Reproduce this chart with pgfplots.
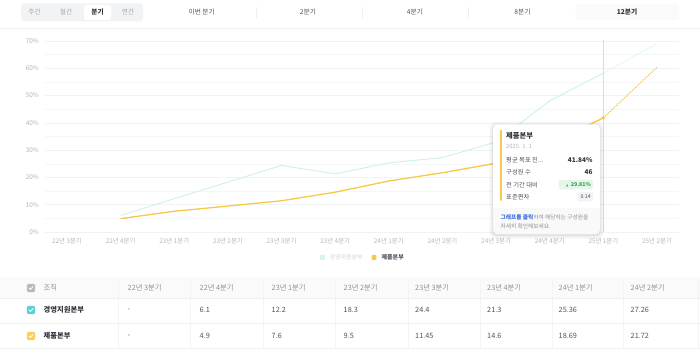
\documentclass[border=0pt]{standalone}
\usepackage{fontspec}
\setmainfont{Noto Sans CJK KR}
\newfontfamily\dejavu{DejaVu Sans}
\usepackage{pgfplots}
\pgfplotsset{compat=1.18}
\definecolor{gridc}{HTML}{F1F2F4}
\definecolor{tickc}{HTML}{B2B6BC}
\definecolor{cyanf}{HTML}{CCF0F0}
\definecolor{yel}{HTML}{F7C948}
\definecolor{cyanbox}{HTML}{5ACFD4}
\definecolor{yelbox}{HTML}{F9D05C}
\definecolor{darkt}{HTML}{30343B}
\definecolor{grayt}{HTML}{8B9099}
\definecolor{midt}{HTML}{4E535B}
\definecolor{segbg}{HTML}{F2F3F5}
\definecolor{lnc}{HTML}{EEEFF1}
\definecolor{linkc}{HTML}{3D6FE0}
\definecolor{greent}{HTML}{2FA24E}
\definecolor{greenbg}{HTML}{E7F6EB}
\newcommand{\fs}[1]{\fontsize{#1}{#1}\selectfont}
\newcommand{\chk}[3]{%
  \fill[#3,rounded corners=1.5pt] (#1-4.2,#2-4.2) rectangle (#1+4.2,#2+4.2);
  \draw[white,line width=0.8pt,line cap=round,line join=round] (#1-2,#2) -- (#1-0.6,#2-1.5) -- (#1+2.1,#2+1.6);}
\begin{document}
\begin{tikzpicture}[x=1pt,y=1pt]
\useasboundingbox (0,0) rectangle (700,361);
\fill[white] (0,0) rectangle (700,361);
% ---------- top tabs ----------
\fill[segbg,rounded corners=3pt] (21,339.7) rectangle (143,357.7);
\fill[white,rounded corners=2.5pt] (84,341) rectangle (111,356);
\draw[lnc!80!gray!40,line width=0.4pt] (50,345) -- (50,352.5);
\begin{scope}[every node/.style={inner sep=0pt,font=\fs{6.7}}]
\node[text=grayt!80] at (34.5,348.7) {주간};
\node[text=grayt!80] at (66,348.7) {월간};
\node[text=darkt,font=\fs{6.7}\bfseries] at (97.5,348.7) {분기};
\node[text=grayt!80] at (128,348.7) {연간};
\fill[segbg!90!gray!20,rounded corners=3pt] (575.7,341) rectangle (679.3,357);
\node[text=midt] at (201.7,348.7) {이번 분기};
\node[text=midt] at (308,348.7) {2분기};
\node[text=midt] at (415,348.7) {4분기};
\node[text=midt] at (522.5,348.7) {8분기};
\node[text=darkt,font=\fs{6.7}\bfseries] at (627,348.7) {12분기};
\end{scope}
\foreach \sx in {256,362,468} \draw[lnc,line width=0.5pt] (\sx,343) -- (\sx,354);
\draw[lnc,line width=0.6pt] (0,332.7) -- (700,332.7);
% ---------- chart ----------
\begin{axis}[at={(45pt,129pt)}, anchor=south west, scale only axis,
  width=634pt, height=191pt,
  xmin=-0.41, xmax=11.41, ymin=0, ymax=70,
  axis line style={draw=none}, major tick length=0pt, minor tick length=0pt,
  ytick={0,10,...,70}, minor ytick={5,15,...,65},
  /pgf/number format/assume math mode=true,
  yticklabel={\pgfmathprintnumber{\tick}\%},
  ymajorgrids, yminorgrids,
  major grid style={draw=gridc,line width=0.5pt},
  minor grid style={draw=gridc!70,line width=0.5pt},
  xtick={0,...,11},
  xticklabels={22년 3분기,22년 4분기,23년 1분기,23년 2분기,23년 3분기,23년 4분기,24년 1분기,24년 2분기,24년 3분기,24년 4분기,25년 1분기,25년 2분기},
  tick label style={font=\fs{6.4}, text=tickc},
  yticklabel style={xshift=-2.6pt},
  xticklabel style={yshift=-3pt},
  clip=false]
\draw[gridc!60!gray!60,line width=0.6pt] (axis cs:10,0) -- (axis cs:10,70.3);
\addplot[cyanf, line width=0.9pt] coordinates {(1,6.1)(2,12.2)(3,18.3)(4,24.4)(5,21.3)(6,25.36)(7,27.26)(8,33.0)(9,48.1)(10,58.2)};
\addplot[cyanf, line width=0.9pt, dash pattern=on 1.1pt off 1.1pt] coordinates {(10,58.2)(11,69.1)};
\addplot[yel, line width=1.3pt] coordinates {(1,4.9)(2,7.6)(3,9.5)(4,11.45)(5,14.6)(6,18.69)(7,21.72)(8,25.2)(9,32.23)(10,41.84)};
\addplot[yel, line width=1.2pt, dash pattern=on 1.1pt off 1.1pt] coordinates {(10,41.84)(11,60.4)};
\addplot[only marks, mark=*, mark size=1.6pt, color=yel] coordinates {(10,41.84)};
\end{axis}
% legend
\fill[cyanf!80,rounded corners=0.8pt] (320,101.2) rectangle (324.8,106);
\node[anchor=west,inner sep=0pt,font=\fs{6},text=gray!35] at (329.5,103.5) {경영지원본부};
\fill[yel,rounded corners=0.8pt] (371.5,101.2) rectangle (376.3,106);
\node[anchor=west,inner sep=0pt,font=\fs{6}\bfseries,text=midt] at (381.5,103.5) {제품본부};
% ---------- tooltip ----------
\foreach \e/\o in {4/0.015,3/0.02,2/0.03,1/0.04}
  \fill[black,opacity=\o,rounded corners=6pt] (493-\e,127-\e-1.2) rectangle (600+\e,236.7+\e-1.2);
\fill[white,rounded corners=5pt] (493,127) rectangle (600,236.7);
\begin{scope}
\clip[rounded corners=5pt] (493,127) rectangle (600,236.7);
\fill[gray!5] (493,127) rectangle (600,153);
\end{scope}
\fill[yel,rounded corners=0.8pt] (499.8,160.2) rectangle (501.8,231);
\begin{scope}[every node/.style={inner sep=0pt,anchor=west}]
\node[font=\fs{7.3}\bfseries,text=darkt] at (506,225) {제품본부};
\node[font=\fs{5.8},text=tickc] at (506,214.3) {2025. 1. 1};
\node[font=\fs{6.3},text=midt] at (506,201) {평균 목표 진...};
\node[font=\fs{6.3},text=midt] at (506,188.4) {구성원 수};
\node[font=\fs{6.3},text=midt] at (506,176.3) {전 기간 대비};
\node[font=\fs{6.3},text=midt] at (506,164.3) {표준편차};
\node[font=\fs{5.7},text=grayt] at (500.5,144) {{\color{linkc}\bfseries 그래프를 클릭}하여 해당하는 구성원을};
\node[font=\fs{5.7},text=grayt] at (500.5,134.3) {자세히 확인해보세요.};
\end{scope}
\fill[greenbg,rounded corners=1.5pt] (558.5,171.5) rectangle (593,181.2);
\fill[segbg,rounded corners=1.5pt] (577,159.7) rectangle (593,169);
\begin{scope}[every node/.style={inner sep=0pt,anchor=east}]
\node[font=\fs{6.5}\bfseries,text=darkt] at (592.7,201) {41.84\%};
\node[font=\fs{6.5}\bfseries,text=darkt] at (592.7,188.4) {46};
\node[font=\fs{5.3}\bfseries,text=greent] at (591,176.3) {{\dejavu\fs{3}▲}\hspace{2.5pt}29.81\%};
\node[font=\fs{5.3},text=midt] at (591,164.3) {0.14};
\end{scope}
% ---------- table ----------
\fill[gray!4] (0,63) rectangle (700,84);
\foreach \ly in {62.7,37.7,12.7} \draw[lnc,line width=0.5pt] (0,\ly) -- (700,\ly);
\foreach \vx in {118.3,190,263,335,408,480,551.7,623,698} \draw[lnc!70,line width=0.4pt] (\vx,13) -- (\vx,84);
\chk{31}{73}{gray!55}
\chk{31}{51}{cyanbox}
\chk{31}{25}{yelbox}
\begin{scope}[every node/.style={inner sep=0pt,anchor=west}]
\node[font=\fs{7.3},text=grayt] at (43.5,73) {조직};
\node[font=\fs{7.3}\bfseries,text=darkt] at (43.5,51) {경영지원본부};
\node[font=\fs{7.3}\bfseries,text=darkt] at (43.5,25) {제품본부};
\foreach \cx/\h/\a/\b in {127.5/22년 3분기/-/-,199.5/22년 4분기/6.1/4.9,271.5/23년 1분기/12.2/7.6,343.5/23년 2분기/18.3/9.5,415/23년 3분기/24.4/11.45,487/23년 4분기/21.3/14.6,558.5/24년 1분기/25.36/18.69,630.5/24년 2분기/27.26/21.72}{
  \node[font=\fs{7.3},text=grayt] at (\cx,73) {\h};
  \node[font=\fs{7.3},text=midt] at (\cx,51) {\a};
  \node[font=\fs{7.3},text=midt] at (\cx,25) {\b};
}
\end{scope}
\end{tikzpicture}
\end{document}
